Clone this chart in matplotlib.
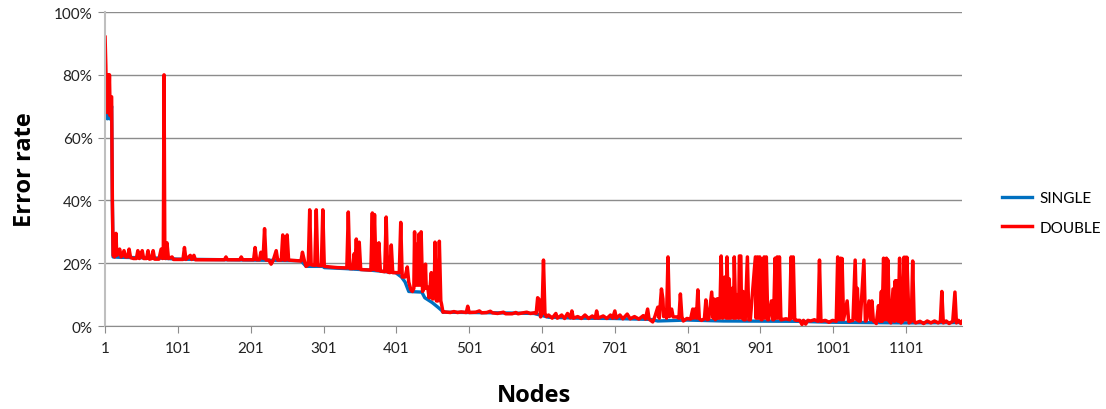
import matplotlib
matplotlib.use("Agg")
import matplotlib.pyplot as plt
from matplotlib.ticker import PercentFormatter

plt.rcParams['font.family'] = ['Lato', 'DejaVu Sans']

double_nodes = [1, 2, 3, 4, 5, 6, 7, 8, 9, 10, 11, 12, 14, 16, 17, 19, 21, 23, 25, 27, 29, 32, 34, 36, 40, 44,
                46, 48, 50, 52, 54, 58, 60, 62, 65, 67, 69, 75, 78, 80, 81, 82, 83, 84, 86, 88, 93, 95, 108,
                110, 112, 118, 120, 123, 125, 165, 167, 169, 186, 188, 190, 205, 207, 209, 213, 215, 218, 220,
                222, 226, 229, 232, 236, 238, 243, 245, 247, 249, 251, 253, 270, 272, 275, 277, 280, 282, 284,
                289, 291, 293, 298, 300, 302, 310, 315, 320, 333, 335, 337, 341, 343, 344, 346, 348, 350, 352,
                366, 368, 369, 371, 373, 375, 376, 377, 379, 385, 387, 389, 392, 394, 396, 405, 407, 409, 413,
                416, 418, 421, 423, 425, 426, 427, 429, 430, 432, 433, 435, 437, 439, 441, 442, 444, 446, 449,
                450, 451, 453, 454, 456, 457, 458, 460, 462, 463, 465,
                467, 475, 480, 485, 490, 497, 499, 501, 510, 515, 518, 525, 530, 533, 540, 548, 551, 560, 565,
                568, 575, 580, 585, 590, 593, 595, 597, 599, 601, 603, 605, 607, 610, 615, 620, 622, 628, 632,
                636, 640, 642, 644, 650, 655, 660, 665, 670, 674, 676, 678, 685, 690, 695, 698, 701, 703, 708,
                712, 718, 722, 728, 734, 740, 743, 746, 748, 753, 756, 760, 762, 765, 767, 768, 770, 772, 774,
                776, 779, 781, 786, 789, 791, 793, 795, 800, 805, 808, 809, 811, 813, 815, 817, 820, 824, 826,
                828, 830, 834, 836, 837, 839, 841, 842, 843, 845, 847, 849, 850, 851, 852, 854, 855, 857, 858,
                860, 862, 864, 865, 867, 869, 871, 872, 874, 875, 877, 878, 880, 883, 885, 887, 894, 895, 897,
                898, 900, 902, 903, 906, 907, 909, 911, 912, 916, 918, 919, 921, 922, 924, 925, 927, 929, 930,
                936, 941, 943, 944, 946, 948, 950, 955, 958, 960, 963, 966, 970, 975, 980, 982, 984, 990, 995,
                1000, 1005, 1007, 1009, 1011, 1012, 1013, 1015, 1020, 1022, 1023, 1028, 1031, 1033, 1034, 1036,
                1038, 1043, 1045, 1046, 1050, 1052, 1054, 1056, 1057, 1060, 1063, 1065, 1067, 1068, 1070, 1072,
                1074, 1075, 1076, 1078, 1080, 1083, 1085, 1086, 1087, 1088, 1090, 1092, 1094, 1096, 1098, 1099,
                1100, 1101, 1102, 1105, 1108, 1110, 1112, 1114, 1120, 1125, 1130, 1135, 1140, 1145, 1148, 1150,
                1152, 1156, 1160, 1165, 1168, 1170, 1173, 1176, 1178]
double_vals = [92, 83, 70, 68, 80, 70, 80, 67, 73, 73, 40, 22.5, 22, 29.5, 22.5, 23, 24.5, 22, 22.5, 24, 22, 22,
               24.5, 21.8, 21.5, 21.5, 24, 21.5, 22, 24, 21.5, 21.5, 24, 21.3, 21.5, 24, 21.3, 21.3, 24.5, 21.5,
               24, 80, 24, 21.5, 26.5, 21.5, 22, 21.2, 21.2, 25, 21.2, 22.5, 21.2, 22.5, 21.1, 21.1, 22, 21.1,
               21.1, 22, 21.1, 21.1, 25, 21.1, 21.1, 23.5, 21.5, 31, 21, 21, 19.7, 21, 24, 21, 21, 29, 21, 21,
               29, 21, 20.7, 23.5, 20.5, 19, 19.5, 37, 19.5, 19.3, 37, 19.3, 19.2, 37, 19, 18.8, 18.7, 18.6,
               18.5, 36.3, 18.3, 18.3, 23, 18.3, 27.7, 18.3, 26.7, 18, 17.8, 36, 18, 35.5, 17.8, 26, 17.7, 26.5,
               17.5, 17.3, 34.7, 17.2, 17, 25.8, 17, 17, 33, 15.6, 15.6, 18.8, 14, 11.5, 11, 12, 30, 13, 26, 13,
               29.3, 13, 30, 11, 12, 19.7, 12, 12.4, 9, 17, 9, 8.6, 10, 26.7, 8, 10, 8, 27, 8, 7, 4.4,
               4.5, 4.3, 4.6, 4.3, 4.5, 4.3, 6.3, 4.3, 4.4, 4.8, 4.2, 4.3, 4.7, 4.2, 4.0, 4.4, 3.9, 3.9, 4.3,
               3.9, 4.2, 4.4, 4.0, 4.2, 4.0, 9, 8.5, 2.9, 4, 21, 4, 3, 3.5, 2.5, 4, 2.5, 3.5, 2.4,
               4, 2.6, 4.8, 2.5, 3.0, 2.4, 3.5, 2.4, 3.2, 2.5, 4.8, 2.5, 3.2, 2.4, 3.5, 2.5, 4.8, 2.5, 3.5,
               2.3, 3.8, 2.3, 3.0, 2.2, 3.3, 2.2, 5.4, 2.2, 1.3, 3, 6, 2.5, 11.8, 8.6, 3, 4, 2.5, 22,
               3, 5.4, 2.9, 2.9, 2.5, 10.2, 3, 1.6, 2.4, 2.2, 5.4, 2.5, 5.4, 2.5, 11.5, 2.3, 1.8, 2.3, 8.3,
               2, 2.2, 10.8, 2.5, 8.6, 2, 8.6, 2.5, 8.6, 2.5, 22.3, 2.5, 11, 3, 15.6, 2.5, 22, 2.5, 15,
               2.5, 12, 2.5, 22, 2.5, 10, 2.5, 22.3, 22.3, 2.5, 11, 2, 2, 22, 2, 2, 22, 2.5, 22,
               2.5, 22, 2, 2, 22, 2.5, 22, 2, 2, 8, 2, 2, 21.6, 2.5, 22, 2.5, 22, 2, 2,
               2.3, 2, 22, 2.5, 22, 2, 1.8, 1.8, 0.5, 1.8, 0.6, 1.8, 1.6, 2, 1.5, 21, 1.5, 1.8, 1.2,
               1.8, 1.5, 22, 2, 21.6, 2, 21.5, 2, 8, 1.5, 1.5, 1.8, 21, 2, 12, 1.6,
               1.6, 21, 1.6, 1.6, 8, 2, 8, 1.6, 1.6, 0.8, 6.5, 1.5, 11, 1.5, 21.6, 2,
               21.6, 2, 21, 1.5, 1.0, 11.8, 1.5, 14.4, 2, 14.4, 1.5, 21.6, 1, 1.5, 21.9, 2,
               21.9, 2, 21.9, 1, 1.5, 20.7, 1.5, 1, 1.5, 0.8, 1.6, 1, 1.6, 1.0, 1.5, 11,
               1, 1.6, 0.8, 1.5, 10.8, 1, 1.8, 0.8, 1.5]

single_nodes = [1, 2, 3, 4, 5, 6, 7, 8, 9, 10, 11, 12, 20, 80, 100, 270, 277, 300, 302, 330, 365, 400, 408,
                413, 418, 436, 440, 450, 458, 463, 465, 540, 590, 610, 650, 700, 750, 760, 800, 850, 950,
                1000, 1100, 1178]
single_vals = [80, 72, 67, 66, 67, 67, 66, 66, 68, 70, 40, 22, 21.9, 21.6, 21.3, 20.8, 19, 19.0, 18.6, 18.3,
               17.8, 17.0, 15.6, 14, 11, 10.8, 9, 7.5, 6, 5, 4.4, 4.2, 4.0, 2.8, 2.5, 2.4, 2.1, 1.6, 1.9, 1.6,
               1.5, 1.2, 1.0, 1.1]

xticks = list(range(1, 1102, 100))

fig = plt.figure(figsize=(11.06, 4.10), dpi=100)
ax = fig.add_axes([0.095, 0.2024, 0.775, 0.7658])

ax.plot(single_nodes, single_vals, color='#0070C0', lw=2.4, label='SINGLE', solid_joinstyle='round')
ax.plot(double_nodes, double_vals, color='#FF0000', lw=2.5, label='DOUBLE', solid_joinstyle='round')

ax.set_xlim(1, 1178)
ax.set_ylim(0, 100)
ax.set_yticks(range(0, 101, 20))
ax.yaxis.set_major_formatter(PercentFormatter(decimals=0))
ax.set_xticks(xticks)
ax.set_xticklabels([str(t) for t in xticks])
ax.grid(axis='y', color='#8c8c8c', lw=1)
ax.set_axisbelow(True)

for s in ['top', 'right']:
    ax.spines[s].set_visible(False)
ax.spines['left'].set_color('#bfbfbf')
ax.spines['left'].set_linewidth(1.5)
ax.spines['bottom'].set_color('#8c8c8c')
ax.tick_params(axis='x', length=5, color='#8c8c8c', pad=6, labelsize=11, labelcolor='#222222')
ax.tick_params(axis='y', length=5, color='#8c8c8c', pad=4, labelsize=11, labelcolor='#222222')

ax.set_xlabel('Nodes', fontsize=17, fontweight='bold', family=['Open Sans', 'DejaVu Sans'], labelpad=20)
ax.set_ylabel('Error rate', fontsize=17, fontweight='bold', family=['Open Sans', 'DejaVu Sans'], labelpad=12)

ax.legend(loc='center left', bbox_to_anchor=(1.046, 0.36), frameon=False, fontsize=11,
          handlelength=2.0, handletextpad=0.5, labelspacing=1.0, borderaxespad=0, borderpad=0)

fig.savefig('out.png', dpi=100)
